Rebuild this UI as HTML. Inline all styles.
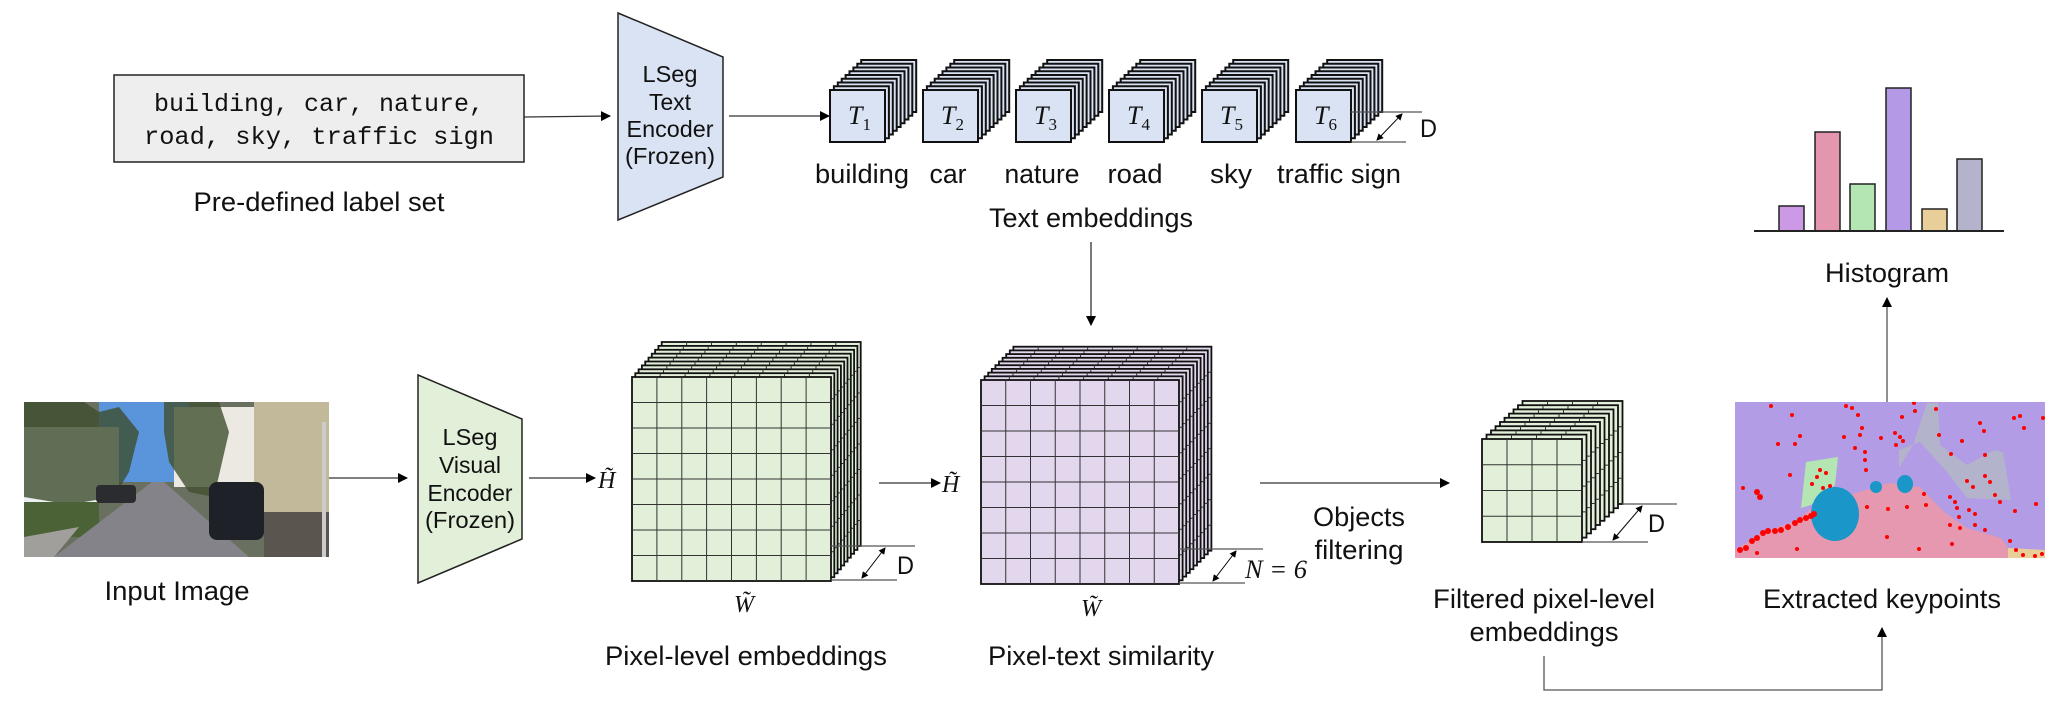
<!DOCTYPE html>
<html><head><meta charset="utf-8"><style>
html,body{margin:0;padding:0;background:#fff;}
svg{display:block;}
text{font-family:"Liberation Sans",sans-serif;fill:#111;}
text.m{font-family:"Liberation Mono",monospace;}
text.s,tspan.s{font-family:"Liberation Serif",serif;font-style:italic;}
</style></head><body>
<svg width="2055" height="701" viewBox="0 0 2055 701" xmlns="http://www.w3.org/2000/svg">
<defs>
<marker id="ah" markerWidth="10" markerHeight="10" refX="9" refY="5" orient="auto" markerUnits="userSpaceOnUse">
<path d="M0,0 L10,5 L0,10 z" fill="#000"/></marker>
<marker id="ds" markerWidth="7" markerHeight="7" refX="6" refY="3.5" orient="auto-start-reverse" markerUnits="userSpaceOnUse">
<path d="M0,0 L7,3.5 L0,7 z" fill="#000"/></marker>
<rect id="tc" width="55" height="52" fill="#dae3f3" stroke="#111" stroke-width="2"/>
<g id="tstack">
<use href="#tc" x="31.2" y="-30"/><use href="#tc" x="27.3" y="-26.25"/><use href="#tc" x="23.4" y="-22.5"/><use href="#tc" x="19.5" y="-18.75"/>
<use href="#tc" x="15.6" y="-15"/><use href="#tc" x="11.7" y="-11.25"/><use href="#tc" x="7.8" y="-7.5"/><use href="#tc" x="3.9" y="-3.75"/>
<use href="#tc" x="0" y="0"/>
</g>
<g id="gg">
<rect width="199" height="204" fill="#e2efd9" stroke="#111" stroke-width="1.8"/>
<path d="M24.9 0V204M49.8 0V204M74.6 0V204M99.5 0V204M124.4 0V204M149.2 0V204M174.1 0V204M0 25.5H199M0 51H199M0 76.5H199M0 102H199M0 127.5H199M0 153H199M0 178.5H199" stroke="#333" stroke-width="1"/>
</g>
<g id="gl">
<rect width="198" height="204" fill="#e2d7ec" stroke="#111" stroke-width="1.8"/>
<path d="M24.75 0V204M49.5 0V204M74.25 0V204M99 0V204M123.75 0V204M148.5 0V204M173.25 0V204M0 25.5H198M0 51H198M0 76.5H198M0 102H198M0 127.5H198M0 153H198M0 178.5H198" stroke="#333" stroke-width="1"/>
</g>
<g id="gf">
<rect width="100" height="103" fill="#e2efd9" stroke="#111" stroke-width="1.8"/>
<path d="M25 0V103M50 0V103M75 0V103M0 25.75H100M0 51.5H100M0 77.25H100" stroke="#333" stroke-width="1"/>
</g>
</defs>

<!-- label set -->
<rect x="114" y="75" width="410" height="87" fill="#eeeeee" stroke="#222" stroke-width="1.5"/>
<text class="m" x="319" y="111" font-size="25" text-anchor="middle" textLength="330" lengthAdjust="spacingAndGlyphs">building, car, nature,</text>
<text class="m" x="319" y="144" font-size="25" text-anchor="middle" textLength="350" lengthAdjust="spacingAndGlyphs">road, sky, traffic sign</text>
<text x="319" y="211" font-size="27" text-anchor="middle" textLength="251" lengthAdjust="spacingAndGlyphs">Pre-defined label set</text>
<line x1="524" y1="117" x2="610" y2="116" stroke="#333" stroke-width="1.3" marker-end="url(#ah)"/>

<!-- text encoder -->
<polygon points="618,13 723,57 723,177 618,220" fill="#dae3f3" stroke="#222" stroke-width="1.5"/>
<g font-size="23" text-anchor="middle" lengthAdjust="spacingAndGlyphs">
<text x="670" y="82" textLength="55" lengthAdjust="spacingAndGlyphs">LSeg</text>
<text x="670" y="110" textLength="42" lengthAdjust="spacingAndGlyphs">Text</text>
<text x="670" y="137" textLength="87" lengthAdjust="spacingAndGlyphs">Encoder</text>
<text x="670" y="164" textLength="90" lengthAdjust="spacingAndGlyphs">(Frozen)</text>
</g>
<line x1="729" y1="116" x2="829" y2="116" stroke="#333" stroke-width="1.3" marker-end="url(#ah)"/>

<!-- T stacks -->
<use href="#tstack" x="830" y="90"/>
<use href="#tstack" x="923" y="90"/>
<use href="#tstack" x="1016" y="90"/>
<use href="#tstack" x="1109" y="90"/>
<use href="#tstack" x="1202" y="90"/>
<use href="#tstack" x="1296" y="90"/>
<g font-size="26">
<text class="s" x="848" y="124">T<tspan font-size="17" font-style="normal" dy="6">1</tspan></text>
<text class="s" x="941" y="124">T<tspan font-size="17" font-style="normal" dy="6">2</tspan></text>
<text class="s" x="1034" y="124">T<tspan font-size="17" font-style="normal" dy="6">3</tspan></text>
<text class="s" x="1127" y="124">T<tspan font-size="17" font-style="normal" dy="6">4</tspan></text>
<text class="s" x="1220" y="124">T<tspan font-size="17" font-style="normal" dy="6">5</tspan></text>
<text class="s" x="1314" y="124">T<tspan font-size="17" font-style="normal" dy="6">6</tspan></text>
</g>
<line x1="1351" y1="112" x2="1422" y2="112" stroke="#555" stroke-width="1.2"/>
<line x1="1351" y1="142" x2="1406" y2="142" stroke="#555" stroke-width="1.2"/>
<line x1="1402" y1="114" x2="1377" y2="140" stroke="#000" stroke-width="1" marker-end="url(#ds)" marker-start="url(#ds)"/>
<text x="1420" y="137" font-size="25" textLength="17" lengthAdjust="spacingAndGlyphs">D</text>
<g font-size="27" text-anchor="middle">
<text x="862" y="183" textLength="94" lengthAdjust="spacingAndGlyphs">building</text>
<text x="948" y="183" textLength="37" lengthAdjust="spacingAndGlyphs">car</text>
<text x="1042" y="183" textLength="75" lengthAdjust="spacingAndGlyphs">nature</text>
<text x="1135" y="183" textLength="55" lengthAdjust="spacingAndGlyphs">road</text>
<text x="1231" y="183" textLength="42" lengthAdjust="spacingAndGlyphs">sky</text>
<text x="1339" y="183" textLength="124" lengthAdjust="spacingAndGlyphs">traffic sign</text>
<text x="1091" y="227" textLength="204" lengthAdjust="spacingAndGlyphs">Text embeddings</text>
</g>
<line x1="1091" y1="242" x2="1091" y2="325" stroke="#333" stroke-width="1.3" marker-end="url(#ah)"/>

<!-- histogram -->
<rect x="1779" y="206" width="25" height="25" fill="#cc99e6" stroke="#222" stroke-width="1.5"/>
<rect x="1815" y="132" width="25" height="99" fill="#e496ae" stroke="#222" stroke-width="1.5"/>
<rect x="1850" y="184" width="25" height="47" fill="#b3e6b3" stroke="#222" stroke-width="1.5"/>
<rect x="1886" y="88" width="25" height="143" fill="#b399e6" stroke="#222" stroke-width="1.5"/>
<rect x="1922" y="209" width="25" height="22" fill="#e8cf99" stroke="#222" stroke-width="1.5"/>
<rect x="1957" y="159" width="25" height="72" fill="#b3b3cc" stroke="#222" stroke-width="1.5"/>
<line x1="1754" y1="231" x2="2004" y2="231" stroke="#222" stroke-width="2"/>
<text x="1887" y="282" font-size="27" text-anchor="middle" textLength="124" lengthAdjust="spacingAndGlyphs">Histogram</text>
<line x1="1887" y1="402" x2="1887" y2="298" stroke="#555" stroke-width="1.3" marker-end="url(#ah)"/>

<!-- input image -->
<svg x="24" y="402" width="305" height="155" viewBox="0 0 305 155">
<rect width="305" height="155" fill="#6a7060"/>
<rect x="75" y="0" width="90" height="80" fill="#5a95dc"/>
<rect x="0" y="25" width="95" height="75" fill="#eceff2"/>
<rect x="150" y="5" width="90" height="80" fill="#ebe9e2"/>
<rect x="230" y="0" width="75" height="120" fill="#c2b89a"/>
<path d="M0,0 H60 L75,10 L95,5 L115,30 L105,70 L90,95 L60,100 L30,100 L0,95 Z" fill="#3d4d2e" opacity="0.8"/>
<path d="M140,0 L195,0 L205,30 L190,95 L165,90 L145,60 L140,30 Z" fill="#415030" opacity="0.8"/>
<rect x="0" y="100" width="75" height="35" fill="#4a6236"/>
<polygon points="30,155 128,80 140,80 225,155" fill="#85838a"/>
<polygon points="0,135 55,125 30,155 0,155" fill="#a19f9b"/>
<rect x="185" y="80" width="55" height="58" rx="8" fill="#1e2228"/>
<rect x="72" y="83" width="40" height="18" rx="4" fill="#2a2c30"/>
<rect x="240" y="110" width="65" height="45" fill="#5a554e"/>
<rect x="298" y="20" width="4" height="135" fill="#ccc"/>
</svg>
<text x="177" y="600" font-size="27" text-anchor="middle" textLength="145" lengthAdjust="spacingAndGlyphs">Input Image</text>
<line x1="329" y1="478" x2="407" y2="478" stroke="#333" stroke-width="1.3" marker-end="url(#ah)"/>

<!-- visual encoder -->
<polygon points="418,375 522,419 522,539 418,583" fill="#e2efd9" stroke="#222" stroke-width="1.5"/>
<g font-size="23" text-anchor="middle">
<text x="470" y="445" textLength="55" lengthAdjust="spacingAndGlyphs">LSeg</text>
<text x="470" y="473" textLength="62" lengthAdjust="spacingAndGlyphs">Visual</text>
<text x="470" y="501" textLength="85" lengthAdjust="spacingAndGlyphs">Encoder</text>
<text x="470" y="528" textLength="90" lengthAdjust="spacingAndGlyphs">(Frozen)</text>
</g>
<line x1="529" y1="478" x2="595" y2="478" stroke="#333" stroke-width="1.3" marker-end="url(#ah)"/>
<text class="s" x="598" y="488" font-size="24">H̃</text>

<!-- pixel-level grid -->
<g>
<use href="#gg" x="661.7" y="342"/><use href="#gg" x="658.4" y="345.9"/><use href="#gg" x="655.1" y="349.8"/><use href="#gg" x="651.8" y="353.7"/>
<use href="#gg" x="648.5" y="357.6"/><use href="#gg" x="645.2" y="361.5"/><use href="#gg" x="641.9" y="365.4"/><use href="#gg" x="638.6" y="369.3"/><use href="#gg" x="635.3" y="373.2"/>
<use href="#gg" x="632" y="377"/>
</g>
<line x1="831" y1="546" x2="915" y2="546" stroke="#555" stroke-width="1.2"/>
<line x1="831" y1="580" x2="897" y2="580" stroke="#555" stroke-width="1.2"/>
<line x1="885" y1="548" x2="862" y2="578" stroke="#000" stroke-width="1" marker-end="url(#ds)" marker-start="url(#ds)"/>
<text x="897" y="574" font-size="25" textLength="17" lengthAdjust="spacingAndGlyphs">D</text>
<text class="s" x="744" y="612" font-size="24" text-anchor="middle">W̃</text>
<text x="746" y="665" font-size="27" text-anchor="middle" textLength="282" lengthAdjust="spacingAndGlyphs">Pixel-level embeddings</text>
<line x1="879" y1="483" x2="940" y2="483" stroke="#333" stroke-width="1.3" marker-end="url(#ah)"/>
<text class="s" x="942" y="492" font-size="24">H̃</text>

<!-- pixel-text grid -->
<g>
<use href="#gl" x="1013.4" y="346.7"/><use href="#gl" x="1009.8" y="350.4"/><use href="#gl" x="1006.2" y="354.1"/><use href="#gl" x="1002.6" y="357.8"/>
<use href="#gl" x="999" y="361.5"/><use href="#gl" x="995.4" y="365.2"/><use href="#gl" x="991.8" y="368.9"/><use href="#gl" x="988.2" y="372.6"/><use href="#gl" x="984.6" y="376.3"/>
<use href="#gl" x="981" y="380"/>
</g>
<line x1="1179" y1="549" x2="1263" y2="549" stroke="#555" stroke-width="1.2"/>
<line x1="1179" y1="583" x2="1245" y2="583" stroke="#555" stroke-width="1.2"/>
<line x1="1236" y1="551" x2="1213" y2="581" stroke="#000" stroke-width="1" marker-end="url(#ds)" marker-start="url(#ds)"/>
<text class="s" x="1245" y="578" font-size="26" font-style="normal" textLength="62" lengthAdjust="spacingAndGlyphs"><tspan class="s">N</tspan> = 6</text>
<text class="s" x="1091" y="616" font-size="24" text-anchor="middle">W̃</text>
<text x="1101" y="665" font-size="27" text-anchor="middle" textLength="226" lengthAdjust="spacingAndGlyphs">Pixel-text similarity</text>

<line x1="1260" y1="483" x2="1449" y2="483" stroke="#333" stroke-width="1.3" marker-end="url(#ah)"/>
<text x="1359" y="526" font-size="27" text-anchor="middle" textLength="92" lengthAdjust="spacingAndGlyphs">Objects</text>
<text x="1359" y="559" font-size="27" text-anchor="middle" textLength="89" lengthAdjust="spacingAndGlyphs">filtering</text>

<!-- filtered -->
<g>
<use href="#gf" x="1522.5" y="401"/><use href="#gf" x="1518" y="405.2"/><use href="#gf" x="1513.5" y="409.4"/><use href="#gf" x="1509" y="413.6"/>
<use href="#gf" x="1504.5" y="417.8"/><use href="#gf" x="1500" y="422"/><use href="#gf" x="1495.5" y="426.2"/><use href="#gf" x="1491" y="430.4"/><use href="#gf" x="1486.5" y="434.6"/>
<use href="#gf" x="1482" y="439"/>
</g>
<line x1="1622" y1="504" x2="1677" y2="504" stroke="#555" stroke-width="1.2"/>
<line x1="1582" y1="542" x2="1648" y2="542" stroke="#555" stroke-width="1.2"/>
<line x1="1642" y1="506" x2="1613" y2="540" stroke="#000" stroke-width="1" marker-end="url(#ds)" marker-start="url(#ds)"/>
<text x="1648" y="532" font-size="25" textLength="17" lengthAdjust="spacingAndGlyphs">D</text>
<text x="1544" y="608" font-size="27" text-anchor="middle" textLength="222" lengthAdjust="spacingAndGlyphs">Filtered pixel-level</text>
<text x="1544" y="641" font-size="27" text-anchor="middle" textLength="149" lengthAdjust="spacingAndGlyphs">embeddings</text>

<!-- keypoints image -->
<svg x="1735" y="402" width="310" height="156" viewBox="1735 402 310 156">
<rect x="1735" y="402" width="310" height="156" fill="#b19ce5"/>
<polygon points="1927,403 1938,403 1940,445 1967,465 1994,450 2003,452 2011,500 1967,498 1947,472 1920,442 1899,450 1899,468 1913,445" fill="#b3b3cc"/>
<polygon points="1806,462 1838,457 1835,485 1811,505 1801,508" fill="#b3e6b3"/>
<polygon points="1735,550 1764,532 1798,520 1811,508 1859,492 1889,483 1920,487 1944,512 1967,528 2001,538 2011,552 2045,552 2045,558 1735,558" fill="#e598b0"/>
<polygon points="2008,548 2045,550 2045,558 2008,558" fill="#e8cf99"/>
<ellipse cx="1835" cy="514" rx="24" ry="27" fill="#1a96c8"/>
<ellipse cx="1876" cy="487" rx="6" ry="6" fill="#1a96c8"/>
<ellipse cx="1905" cy="484" rx="8" ry="9" fill="#1a96c8"/>
<g fill="#f00">
<circle cx="1771" cy="406" r="2"/><circle cx="1792" cy="415" r="2"/><circle cx="1846" cy="406" r="2"/><circle cx="1852" cy="408" r="2"/><circle cx="1858" cy="415" r="2"/>
<circle cx="1862" cy="428" r="2"/><circle cx="1860" cy="435" r="2"/><circle cx="1865" cy="452" r="2"/><circle cx="1865" cy="460" r="2"/><circle cx="1866" cy="470" r="2"/>
<circle cx="1778" cy="444" r="2"/><circle cx="1795" cy="444" r="2"/><circle cx="1800" cy="436" r="2"/><circle cx="1844" cy="437" r="2"/><circle cx="1855" cy="448" r="2"/>
<circle cx="1881" cy="438" r="2"/><circle cx="1895" cy="433" r="2"/><circle cx="1900" cy="437" r="2"/><circle cx="1903" cy="441" r="2"/><circle cx="1896" cy="445" r="2"/>
<circle cx="1902" cy="417" r="2"/><circle cx="1915" cy="411" r="2"/><circle cx="1914" cy="403" r="2"/><circle cx="1936" cy="409" r="2"/><circle cx="1939" cy="435" r="2"/>
<circle cx="1951" cy="454" r="2"/><circle cx="1962" cy="441" r="2"/><circle cx="1980" cy="423" r="2"/><circle cx="1984" cy="431" r="2"/><circle cx="1985" cy="455" r="2"/>
<circle cx="2014" cy="418" r="2"/><circle cx="2020" cy="416" r="2"/><circle cx="2024" cy="428" r="2"/><circle cx="2043" cy="418" r="2"/><circle cx="1985" cy="476" r="2"/>
<circle cx="1967" cy="481" r="2"/><circle cx="1973" cy="487" r="2"/><circle cx="1990" cy="482" r="2"/><circle cx="1995" cy="495" r="2"/><circle cx="2000" cy="502" r="2"/>
<circle cx="1950" cy="497" r="2"/><circle cx="1955" cy="502" r="2"/><circle cx="1957" cy="508" r="2"/><circle cx="1969" cy="510" r="2"/><circle cx="1975" cy="514" r="2"/>
<circle cx="1959" cy="517" r="2"/><circle cx="1950" cy="525" r="2"/><circle cx="1960" cy="528" r="2"/><circle cx="1975" cy="525" r="2"/><circle cx="1985" cy="530" r="2"/>
<circle cx="2015" cy="511" r="2"/><circle cx="2036" cy="504" r="2"/><circle cx="2010" cy="541" r="2"/><circle cx="2016" cy="550" r="2"/><circle cx="2023" cy="555" r="2"/>
<circle cx="2035" cy="556" r="2"/><circle cx="2042" cy="554" r="2"/><circle cx="1952" cy="544" r="2"/><circle cx="1919" cy="549" r="2"/><circle cx="1887" cy="537" r="2"/>
<circle cx="1888" cy="509" r="2"/><circle cx="1867" cy="507" r="2"/><circle cx="1907" cy="507" r="2"/><circle cx="1926" cy="505" r="2"/><circle cx="1924" cy="494" r="2"/>
<circle cx="1757" cy="492" r="3"/><circle cx="1760" cy="497" r="3"/><circle cx="1743" cy="488" r="2"/><circle cx="1790" cy="475" r="2"/><circle cx="1817" cy="477" r="2"/>
<circle cx="1820" cy="470" r="2"/><circle cx="1812" cy="484" r="2"/><circle cx="1823" cy="488" r="2"/><circle cx="1830" cy="486" r="2"/><circle cx="1826" cy="473" r="2"/>
<circle cx="1740" cy="550" r="3"/><circle cx="1746" cy="548" r="3"/><circle cx="1752" cy="541" r="3"/><circle cx="1757" cy="538" r="3"/><circle cx="1763" cy="533" r="3"/>
<circle cx="1768" cy="531" r="3"/><circle cx="1775" cy="531" r="3"/><circle cx="1781" cy="530" r="3"/><circle cx="1788" cy="527" r="3"/><circle cx="1795" cy="523" r="3"/>
<circle cx="1800" cy="520" r="3"/><circle cx="1806" cy="518" r="3"/><circle cx="1811" cy="516" r="3"/><circle cx="1814" cy="514" r="3"/><circle cx="1797" cy="549" r="2"/>
<circle cx="1757" cy="553" r="2"/>
</g>
</svg>
<text x="1882" y="608" font-size="27" text-anchor="middle" textLength="238" lengthAdjust="spacingAndGlyphs">Extracted keypoints</text>
<polyline points="1544,656 1544,690 1882,690 1882,628" fill="none" stroke="#555" stroke-width="1.3" marker-end="url(#ah)"/>
</svg>
</body></html>
